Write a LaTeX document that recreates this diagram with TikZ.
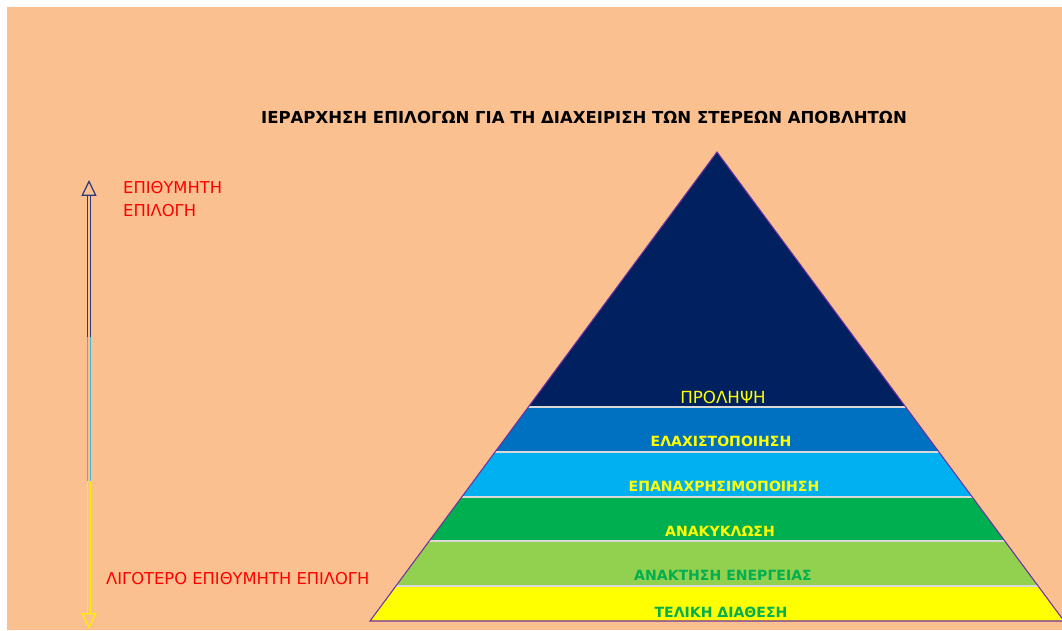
\documentclass[tikz,border=0pt]{standalone}
\usepackage{fontspec}
\setmainfont{DejaVu Sans}
\usetikzlibrary{arrows.meta}
\definecolor{peach}{HTML}{FAC090}
\definecolor{navyband}{HTML}{002060}
\definecolor{blueband}{HTML}{0070C0}
\definecolor{skyband}{HTML}{00B0F0}
\definecolor{greenband}{HTML}{00B050}
\definecolor{limeband}{HTML}{92D050}
\definecolor{yellowband}{HTML}{FFFF00}
\definecolor{edgepurple}{HTML}{7030A0}
\definecolor{arrownavy}{HTML}{2A3A7A}
\definecolor{arrowsky}{HTML}{45B8DC}
\definecolor{arrowyellow}{HTML}{FFF000}
\definecolor{redtext}{HTML}{FF0000}
\begin{document}
\begin{tikzpicture}[x=0.02cm,y=-0.02cm,
shaft/.style={line width=0.7pt,double=peach,double distance=1.2pt},
openhead/.tip={Triangle[open,length=9pt,width=8.5pt]},
bandlabel/.style={font=\fontsize{8}{9}\selectfont\bfseries,text=yellowband},
greenlabel/.style={font=\fontsize{8}{9}\selectfont\bfseries,text=greenband},
redlabel/.style={font=\fontsize{9.3}{13}\selectfont,text=redtext,align=left}]
\useasboundingbox (0,0) rectangle (1062,630);
\fill[peach] (7,7) rectangle (1062,630);
\draw node[font=\fontsize{9.4}{10}\selectfont\bfseries] (title) at (584,117) {ΙΕΡΑΡΧΗΣΗ ΕΠΙΛΟΓΩΝ ΓΙΑ ΤΗ ΔΙΑΧΕΙΡΙΣΗ ΤΩΝ ΣΤΕΡΕΩΝ ΑΠΟΒΛΗΤΩΝ};
\coordinate (apex) at (717,152);
\coordinate (bl) at (370,621);
\coordinate (br) at (1064,621);
\begin{scope}
\clip (apex) -- (bl) -- (br) -- cycle;
\fill[navyband] (300,140) rectangle (1100,407);
\fill[blueband] (300,407) rectangle (1100,452);
\fill[skyband] (300,452) rectangle (1100,497);
\fill[greenband] (300,497) rectangle (1100,541);
\fill[limeband] (300,541) rectangle (1100,586);
\fill[yellowband] (300,586) rectangle (1100,621);
\foreach \y in {407,452,497,541,586}
  \draw[gray!30,line width=0.6pt] (300,\y) -- (1100,\y);
\end{scope}
\draw[edgepurple,line width=0.6pt] (apex) -- (bl) -- (br) -- cycle;
\draw node[font=\fontsize{9.5}{10}\selectfont,text=yellowband] (prolipsi) at (723,397) {ΠΡΟΛΗΨΗ};
\draw node[bandlabel] (elaxist) at (721,441) {ΕΛΑΧΙΣΤΟΠΟΙΗΣΗ};
\draw node[bandlabel] (epanax) at (724,486) {ΕΠΑΝΑΧΡΗΣΙΜΟΠΟΙΗΣΗ};
\draw node[bandlabel] (anakykl) at (720,531) {ΑΝΑΚΥΚΛΩΣΗ};
\draw node[greenlabel] (anaktisi) at (723,575) {ΑΝΑΚΤΗΣΗ ΕΝΕΡΓΕΙΑΣ};
\draw node[greenlabel] (teliki) at (721,612) {ΤΕΛΙΚΗ ΔΙΑΘΕΣΗ};
\coordinate (up) at (89,180);
\coordinate (navyend) at (89,337);
\coordinate (skyend) at (89,481);
\coordinate (down) at (89,629);
\draw[shaft,arrownavy,openhead-] (up) -- (navyend);
\draw[shaft,arrowsky] (navyend) -- (skyend);
\draw[shaft,arrowyellow,-openhead] (skyend) -- (down);
\draw node[redlabel,anchor=west] (best) at (117,199) {ΕΠΙΘΥΜΗΤΗ\\ΕΠΙΛΟΓΗ};
\draw node[redlabel,anchor=west] (worst) at (100,579) {ΛΙΓΟΤΕΡΟ ΕΠΙΘΥΜΗΤΗ ΕΠΙΛΟΓΗ};
\end{tikzpicture}
\end{document}
